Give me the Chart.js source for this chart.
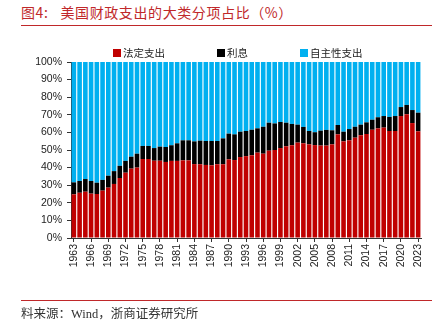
<!DOCTYPE html>
<html><head><meta charset="utf-8">
<script src="https://cdn.jsdelivr.net/npm/chart.js@4.4.0/dist/chart.umd.min.js"></script>
<style>
html,body{margin:0;padding:0;background:#fff;}
#wrap{position:relative;width:444px;height:327px;overflow:hidden;background:#fff;}
#c{position:absolute;left:0;top:0;}
.title{position:absolute;left:21px;top:2px;font-family:"Noto Sans CJK SC",sans-serif;font-size:14px;color:#c0282a;white-space:pre;letter-spacing:0.6px;line-height:20px;}
.title .main{margin-left:12px;}
.rule{position:absolute;left:21px;width:411px;height:1px;background:#c0282a;}
.src{position:absolute;left:21px;top:306px;font-family:"Liberation Serif","Noto Sans CJK SC",serif;font-size:12.5px;color:#333;white-space:pre;line-height:16px;}
#legend{position:absolute;top:46px;left:113px;display:flex;gap:52px;font-family:"Noto Sans CJK SC",sans-serif;font-size:10.5px;line-height:14px;color:#222;}
.item{display:flex;align-items:center;}
.box{width:8px;height:8px;margin-right:2px;}
</style>
</head><body>
<div id="wrap">
  <div class="title">图4:<span class="main">美国财政支出的大类分项占比（%）</span></div>
  <div class="rule" style="top:25px"></div>
  <canvas id="c" width="444" height="327"></canvas>
  <div id="legend"></div>
  <div class="rule" style="top:300px"></div>
  <div class="src">料来源：Wind，浙商证券研究所</div>
</div>
<script>
const years = ['1963','1964','1965','1966','1967','1968','1969','1970','1971','1972',
'1973','1974','1975','1976','1977','1978','1979','1980','1981','1982',
'1983','1984','1985','1986','1987','1988','1989','1990','1991','1992',
'1993','1994','1995','1996','1997','1998','1999','2000','2001','2002',
'2003','2004','2005','2006','2007','2008','2009','2010','2011','2012',
'2013','2014','2015','2016','2017','2018','2019','2020','2021','2022','2023'];

// 法定支出 (mandatory)
const mandatory = [24.8,25.7,26.3,25.2,25.0,26.9,28.6,30.7,34.1,37.1,
39.4,40.0,44.9,44.9,43.9,43.9,43.2,43.8,43.8,44.1,
44.1,42.0,41.9,41.5,41.3,41.9,41.9,44.7,44.3,46.0,
46.5,47.0,48.5,47.9,49.6,50.0,51.1,52.1,52.7,54.2,
53.8,53.2,52.8,52.5,52.5,53.2,58.9,54.9,55.5,57.0,
58.4,59.1,61.5,62.3,62.7,60.8,60.8,69.3,70.3,65.3,60.6];

// 利息 (interest)
const interest = [6.8,6.7,7.2,7.2,6.4,6.1,6.8,7.3,6.9,6.7,
6.8,7.9,7.4,7.4,7.2,8.0,8.5,8.9,10.0,11.4,
11.4,12.9,13.4,13.6,13.8,13.2,14.7,14.6,14.6,14.4,
14.3,14.5,13.8,15.3,15.9,15.1,14.8,13.4,12.1,10.2,
9.3,7.6,7.3,8.5,8.9,8.0,5.3,5.5,6.4,6.2,
6.0,6.6,5.7,6.3,6.6,8.0,8.5,5.1,5.3,7.4,10.6];

// 自主性支出 (discretionary)
const discretionary = [68.4,67.6,66.5,67.6,68.6,67.0,64.6,62.0,59.0,56.2,
53.8,52.1,47.7,47.7,48.9,48.1,48.3,47.3,46.2,44.5,
44.5,45.1,44.7,44.9,44.9,44.9,43.4,40.7,41.1,39.6,
39.2,38.5,37.7,36.8,34.5,34.9,34.1,34.5,35.2,35.6,
36.9,39.2,39.9,39.0,38.6,38.8,35.8,39.6,38.1,36.8,
35.6,34.3,32.8,31.4,30.7,31.2,30.7,25.6,24.4,27.3,28.8];

const seriesNames = ['法定支出','利息','自主性支出'];
const seriesColors = ['#c00000','#000000','#00b0f0'];

const axisFont = {family:"'Liberation Sans', Arial, sans-serif", size:10.5};

const chart = new Chart(document.getElementById('c'), {
  type: 'bar',
  data: {
    labels: years,
    datasets: [
      {label: seriesNames[0], data: mandatory, backgroundColor: seriesColors[0]},
      {label: seriesNames[1], data: interest, backgroundColor: seriesColors[1]},
      {label: seriesNames[2], data: discretionary, backgroundColor: seriesColors[2]}
    ]
  },
  options: {
    responsive: false,
    animation: false,
    devicePixelRatio: 1,
    layout: {padding: {top: 62, left: 0, right: 23, bottom: 40}},
    datasets: {bar: {categoryPercentage: 1.0, barPercentage: 0.8, borderWidth: 0}},
    plugins: {legend: {display: false}, tooltip: {enabled: false}},
    scales: {
      x: {
        stacked: true,
        afterFit: s => { s.height = 49; },
        grid: {display: true, drawOnChartArea: false, drawTicks: true, tickLength: 4, offset: false,
               tickColor: ctx => (ctx.index % 3 === 0 ? '#333' : 'rgba(0,0,0,0)')},
        border: {display: true, color: '#333'},
        ticks: {autoSkip: false, maxRotation: 90, minRotation: 90, padding: 2, color: '#222', font: axisFont,
                callback: function(v, i) { return i % 3 === 0 ? this.getLabelForValue(v) : ''; }}
      },
      y: {
        stacked: true, min: 0, max: 100,
        afterFit: s => { s.width = 71; },
        grid: {display: true, drawOnChartArea: false, drawTicks: true, tickLength: 4, color: '#333'},
        border: {display: true, color: '#333'},
        ticks: {stepSize: 10, padding: 5, color: '#222', font: axisFont, callback: v => v + '%'}
      }
    }
  }
});

// HTML legend built from the chart's own legend items
const legendEl = document.getElementById('legend');
Chart.defaults.plugins.legend.labels.generateLabels(chart).forEach(it => {
  const d = document.createElement('div'); d.className = 'item';
  const b = document.createElement('span'); b.className = 'box'; b.style.background = it.fillStyle;
  const t = document.createElement('span'); t.textContent = it.text;
  d.appendChild(b); d.appendChild(t); legendEl.appendChild(d);
});
</script>
</body></html>
